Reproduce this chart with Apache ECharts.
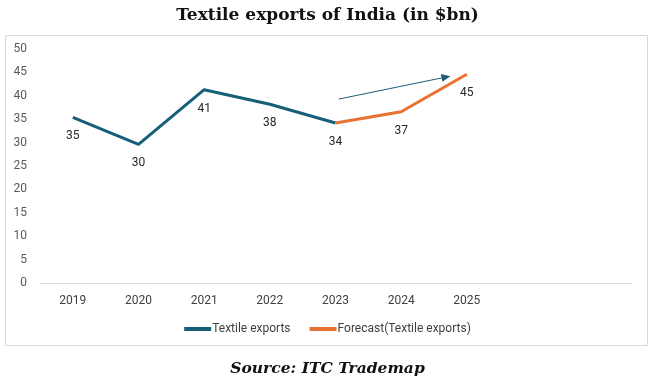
<!DOCTYPE html>
<html><head><meta charset="utf-8">
<script src="https://cdn.jsdelivr.net/npm/echarts@6/dist/echarts.min.js"></script>
<style>html,body{margin:0;padding:0;background:#fff}#c{width:655px;height:380px}</style>
</head><body><div id="c"></div>
<script>
const categories = ['2019','2020','2021','2022','2023','2024','2025','',''];
const exportsVals = [35.4, 29.6, 41.3, 38.2, 34.2, null, null, null, null];
const forecastVals = [null, null, null, null, 34.2, 36.6, 44.6, null, null];
const yTicks = [0,5,10,15,20,25,30,35,40,45,50];
const arrowFrom = [4.05, 39.3];
const arrowTo = [5.75, 44.2];

const chart = echarts.init(document.getElementById('c'));
const font = 'Roboto, "Liberation Sans", sans-serif';
const boxRect = {type: 'rect', shape: {x: 5.5, y: 35.5, width: 642, height: 310},
    style: {fill: 'none', stroke: '#d9d9d9', lineWidth: 1}, z: -1};
chart.setOption({
  animation: false,
  title: [
    {text: 'Textile exports of India (in $bn)', left: 'center', top: 2,
     textStyle: {fontFamily: '"DejaVu Serif", serif', fontWeight: 'bold', fontSize: 17, color: '#111'}},
    {text: 'Source: ITC Trademap', left: 'center', top: 356,
     textStyle: {fontFamily: '"DejaVu Serif", serif', fontWeight: 'bold', fontStyle: 'italic', fontSize: 15.5, color: '#111'}}
  ],
  graphic: [boxRect],
  legend: {bottom: 40, left: 'center', itemWidth: 27, itemHeight: 4, itemGap: 19,
    icon: 'rect',
    textStyle: {fontFamily: font, fontSize: 12, color: '#404040', padding: [0,0,0,-4]},
    data: ['Textile exports', 'Forecast(Textile exports)']},
  grid: {left: 40, right: 24, top: 49, bottom: 97},
  xAxis: {type: 'category', data: categories, boundaryGap: true,
    axisLine: {lineStyle: {color: '#d9d9d9', width: 1}},
    axisTick: {show: false},
    axisLabel: {fontFamily: font, fontSize: 12, color: '#404040', margin: 12}},
  yAxis: {type: 'value', min: 0, max: 50, interval: 5,
    splitLine: {show: false}, axisLine: {show: false}, axisTick: {show: false},
    axisLabel: {fontFamily: font, fontSize: 12, color: '#595959', margin: 13}},
  series: [
    {name: 'Textile exports', type: 'line', data: exportsVals, symbol: 'circle', symbolSize: 0.01, showSymbol: true,
     color: '#175E78', lineStyle: {width: 3, color: '#175E78'},
     label: {show: true, position: 'bottom', distance: 13, fontFamily: font, fontSize: 12, color: '#262626',
       formatter: p => Math.round(p.value)}},
    {name: 'Forecast(Textile exports)', type: 'line', data: forecastVals, symbol: 'circle', symbolSize: 0.01, showSymbol: true,
     color: '#E97132', lineStyle: {width: 3, color: '#E97132'},
     label: {show: true, position: 'bottom', distance: 13, fontFamily: font, fontSize: 12, color: '#262626',
       formatter: p => p.dataIndex === 4 ? '' : Math.round(p.value)}}
  ]
});
function px(pt) {
  const i = Math.floor(pt[0]), f = pt[0] - i;
  const a = chart.convertToPixel({xAxisIndex: 0}, categories[i]);
  const b = chart.convertToPixel({xAxisIndex: 0}, categories[i + 1] || categories[i]);
  const y = chart.convertToPixel({yAxisIndex: 0}, pt[1]);
  return [a + (b - a) * f, y];
}
const p1 = px(arrowFrom), p2 = px(arrowTo);
const ang = Math.atan2(p2[1] - p1[1], p2[0] - p1[0]);
const L = 9, W = 4;
const tip = p2, base = [p2[0] - L * Math.cos(ang), p2[1] - L * Math.sin(ang)];
const n = [-Math.sin(ang), Math.cos(ang)];
chart.setOption({graphic: [
  boxRect,
  {type: 'line', shape: {x1: p1[0], y1: p1[1], x2: base[0], y2: base[1]}, style: {stroke: '#1F5C7A', lineWidth: 1}},
  {type: 'polygon', shape: {points: [tip, [base[0] + n[0] * W, base[1] + n[1] * W], [base[0] - n[0] * W, base[1] - n[1] * W]]},
    style: {fill: '#1F5C7A'}}
]});
</script></body></html>
